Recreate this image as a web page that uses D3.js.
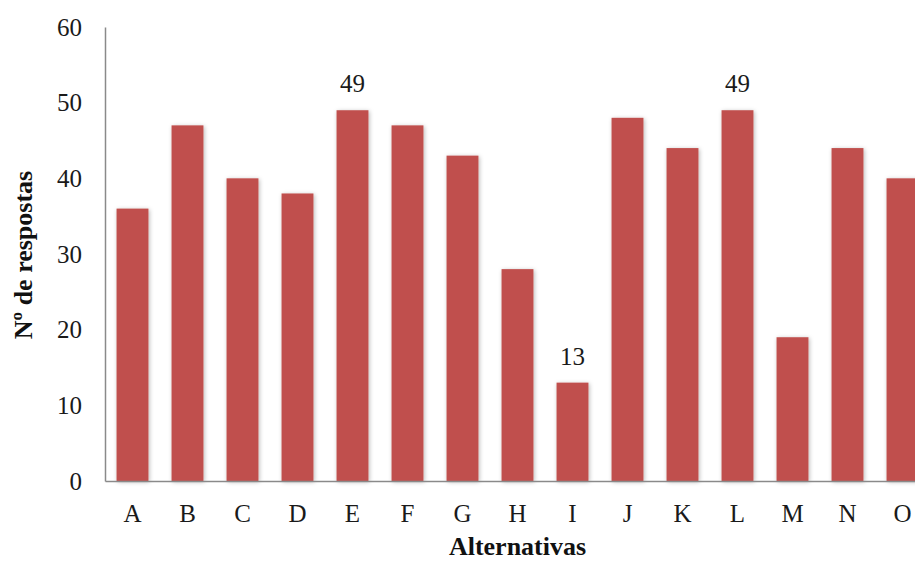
<!DOCTYPE html>
<html>
<head>
<meta charset="utf-8">
<script src="https://cdn.jsdelivr.net/npm/d3@7"></script>
<style>
  body { margin: 0; background: #fff; }
  svg { display: block; }
  text { font-family: "Liberation Serif", "Times New Roman", serif; }
</style>
</head>
<body>
<svg id="chart" width="915" height="561"></svg>
<script>
// Responses per alternative
const categories = ["A","B","C","D","E","F","G","H","I","J","K","L","M","N","O"];
const values = [36, 47, 40, 38, 49, 47, 43, 28, 13, 48, 44, 49, 19, 44, 40];
const labelled = ["E", "I", "L"];
const yTicks = [0, 10, 20, 30, 40, 50, 60];

const SERIF = "Liberation Serif, Times New Roman, serif";
const svg = d3.select("#chart");
const plotLeft = 105, plotRight = 930, plotTop = 27, plotBottom = 481;

const x = d3.scaleBand().domain(categories).range([plotLeft, plotRight]).paddingInner(0.42).paddingOuter(0.21);
const y = d3.scaleLinear().domain([0, 60]).range([plotBottom, plotTop]);

const defs = svg.append("defs");
const f = defs.append("filter").attr("id", "shadow")
  .attr("x", "-30%").attr("y", "-10%").attr("width", "160%").attr("height", "120%");
f.append("feDropShadow").attr("dx", 1).attr("dy", 1).attr("stdDeviation", 2.2)
  .attr("flood-color", "#000").attr("flood-opacity", 0.28);

// Bars
svg.append("g").selectAll("rect").data(categories).join("rect")
  .attr("x", d => x(d))
  .attr("y", (d, i) => y(values[i]))
  .attr("width", x.bandwidth())
  .attr("height", (d, i) => y(0) - y(values[i]))
  .attr("fill", "#C0504D")
  .attr("filter", "url(#shadow)");

// Value labels
svg.append("g").selectAll("text").data(categories.filter(c => labelled.includes(c))).join("text")
  .attr("x", d => x(d) + x.bandwidth() / 2)
  .attr("y", d => y(values[categories.indexOf(d)]) - 18)
  .attr("text-anchor", "middle")
  .attr("font-family", SERIF)
  .attr("font-size", 25)
  .attr("fill", "#1a1a1a")
  .text(d => values[categories.indexOf(d)]);

// Y axis
const yAxis = svg.append("g").attr("transform", `translate(${plotLeft},0)`)
  .call(d3.axisLeft(y).tickValues(yTicks).tickSize(0).tickPadding(23));
yAxis.select(".domain").attr("stroke", "#8a8a8a").attr("stroke-width", 1.5);
yAxis.selectAll("text").attr("font-size", 25).attr("fill", "#1a1a1a")
  .attr("font-family", SERIF);

// X axis
const xAxis = svg.append("g").attr("transform", `translate(0,${plotBottom})`)
  .call(d3.axisBottom(x).tickSize(0).tickPadding(23));
xAxis.select(".domain").attr("stroke", "#8a8a8a").attr("stroke-width", 1.5);
xAxis.selectAll("text").attr("font-size", 25).attr("fill", "#1a1a1a")
  .attr("font-family", SERIF);

// Axis titles
svg.append("text")
  .attr("x", (plotLeft + plotRight) / 2).attr("y", 555)
  .attr("text-anchor", "middle")
  .attr("font-family", SERIF)
  .attr("font-size", 26).attr("font-weight", "bold").attr("fill", "#111")
  .text("Alternativas");

svg.append("text")
  .attr("transform", "translate(32,255) rotate(-90)")
  .attr("text-anchor", "middle")
  .attr("font-family", SERIF)
  .attr("font-size", 26).attr("font-weight", "bold").attr("fill", "#111")
  .text("Nº de respostas");
</script>
</body>
</html>
